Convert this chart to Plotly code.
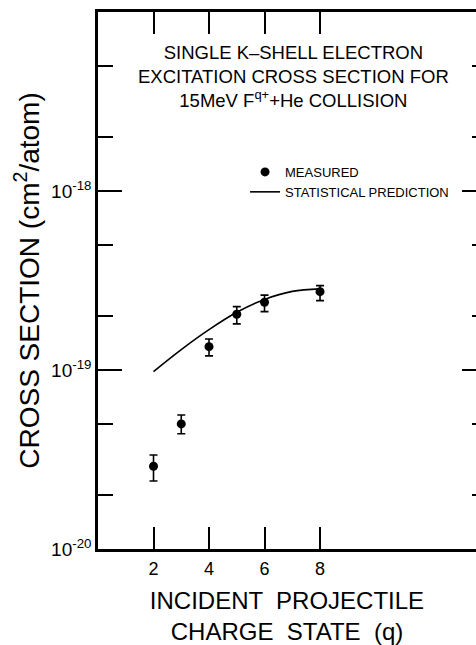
import plotly.graph_objects as go

# ---- data ----
q_meas = [2, 3, 4, 5, 6, 8]
sigma_meas = [2.9e-20, 5.0e-20, 1.35e-19, 2.05e-19, 2.39e-19, 2.74e-19]
err_plus = [0.45e-20, 0.6e-20, 0.14e-19, 0.21e-19, 0.23e-19, 0.22e-19]
err_minus = [0.5e-20, 0.6e-20, 0.15e-19, 0.24e-19, 0.27e-19, 0.30e-19]

q_pred = [2, 3, 4, 5, 6, 7, 8]
sigma_pred = [0.98e-19, 1.30e-19, 1.68e-19, 2.10e-19, 2.48e-19, 2.75e-19, 2.84e-19]

x_tickvals = [2, 4, 6, 8]
x_ticktext = ["2", "4", "6", "8"]
y_tickvals = [1e-20, 1e-19, 1e-18]
y_ticktext = ["10<sup>-20</sup>", "10<sup>-19</sup>", "10<sup>-18</sup>"]
y_minorvals = [2e-20, 5e-20, 2e-19, 5e-19, 2e-18, 5e-18]

FONT = "Liberation Sans, Arial, sans-serif"

fig = go.Figure()

fig.add_trace(go.Scatter(
    x=q_meas, y=sigma_meas, mode="markers", name="MEASURED",
    marker=dict(color="black", size=9),
    error_y=dict(type="data", array=err_plus, arrayminus=err_minus,
                 color="black", thickness=1.6, width=4),
))
fig.add_trace(go.Scatter(
    x=q_pred, y=sigma_pred, mode="lines", name="STATISTICAL PREDICTION",
    line=dict(color="black", width=1.6, shape="spline", smoothing=1.0),
))
# helper trace so the right-hand tick axis is drawn
fig.add_trace(go.Scatter(x=[None], y=[None], xaxis="x", yaxis="y2",
                         showlegend=False, hoverinfo="skip"))

fig.update_layout(
    width=476, height=645,
    margin=dict(l=98, r=0, t=12, b=96),
    paper_bgcolor="white", plot_bgcolor="white",
    font=dict(family=FONT, color="black"),
    showlegend=True,
    legend=dict(x=0.389, y=0.73, xanchor="left", yanchor="top",
                font=dict(size=13, family=FONT), bgcolor="rgba(0,0,0,0)",
                tracegroupgap=0),
    xaxis=dict(
        range=[0, 13.62], showgrid=False, zeroline=False,
        showline=True, linecolor="black", linewidth=2.5, mirror="ticks",
        ticks="inside", ticklen=22, tickwidth=1.5, tickcolor="black",
        tickmode="array", tickvals=x_tickvals, ticktext=x_ticktext,
        tickfont=dict(size=18), ticklabelstandoff=2,
        title=dict(text="INCIDENT  PROJECTILE<br>CHARGE  STATE  (q)",
                   font=dict(size=24), standoff=14),
    ),
    yaxis=dict(
        type="log", range=[-20, -17], showgrid=False, zeroline=False,
        showline=True, linecolor="black", linewidth=2.5,
        ticks="inside", ticklen=24, tickwidth=1.5, tickcolor="black",
        tickmode="array", tickvals=y_tickvals, ticktext=y_ticktext,
        tickfont=dict(size=19),
        minor=dict(tickmode="array", tickvals=y_minorvals, ticks="inside",
                   ticklen=15, tickwidth=1.5, tickcolor="black", showgrid=False),
        title=dict(text="CROSS SECTION (cm<sup>2</sup>/atom)",
                   font=dict(size=28), standoff=4),
    ),
    yaxis2=dict(
        type="log", range=[-20, -17], overlaying="y", side="right", anchor="x",
        showgrid=False, zeroline=False, showline=False, showticklabels=False,
        ticks="inside", ticklen=14, tickwidth=1.5, tickcolor="black",
        tickmode="array", tickvals=y_tickvals,
        minor=dict(tickmode="array", tickvals=y_minorvals, ticks="inside",
                   ticklen=4, tickwidth=1.5, tickcolor="black", showgrid=False),
    ),
    annotations=[dict(
        xref="paper", yref="paper", x=0.517, y=0.880,
        xanchor="center", yanchor="middle", showarrow=False, align="center",
        text=("SINGLE K\u2013SHELL ELECTRON<br>EXCITATION CROSS SECTION FOR<br>"
              "15MeV F<sup>q+</sup>+He COLLISION"),
        font=dict(size=18.5, family=FONT),
    )],
)

fig.write_html("out.html")
